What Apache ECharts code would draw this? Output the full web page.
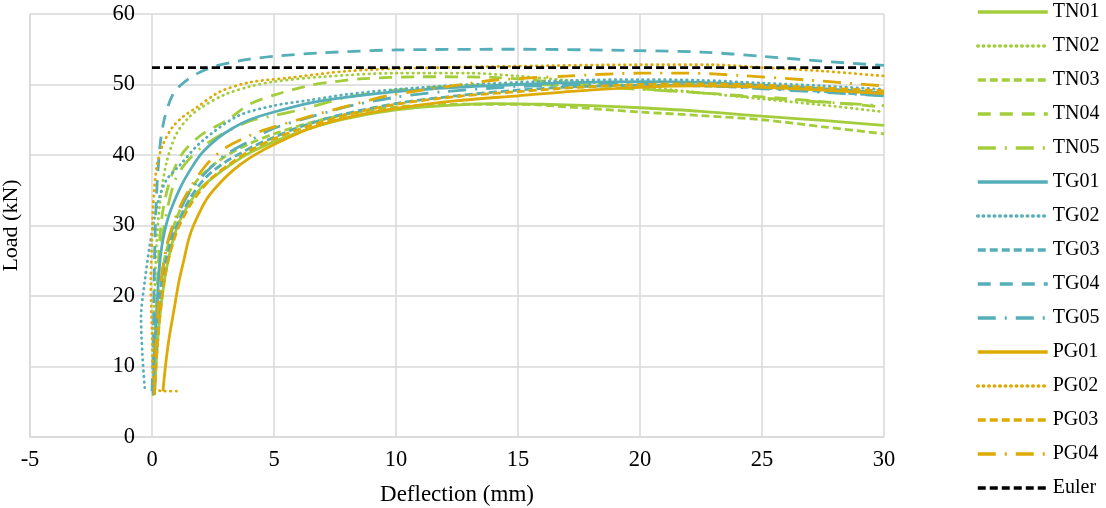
<!DOCTYPE html>
<html>
<head>
<meta charset="utf-8">
<script src="https://cdn.jsdelivr.net/npm/echarts@6/dist/echarts.min.js"></script>
<style>
html,body{margin:0;padding:0;background:#fff;}
#chart{width:1106px;height:508px;}
</style>
</head>
<body>
<div id="chart"></div>
<script>
// ---- data (deflection mm, load kN) ----
const xTicks = [-5, 0, 5, 10, 15, 20, 25, 30];
const yTicks = [0, 10, 20, 30, 40, 50, 60];
const seriesNames = ['TN01','TN02','TN03','TN04','TN05','TG01','TG02','TG03','TG04','TG05','PG01','PG02','PG03','PG04','Euler'];

const TN01 = [[0.1,6],[0.2,12],[0.35,18],[0.6,24],[1,29.5],[1.5,33],[2,35.3],[2.5,36.8],[3.3,38.8],[4,40.3],[5,41.9],[6.5,43.8],[8,45.2],[10,46.4],[12,47],[14,47.3],[16,47.2],[18,47],[20,46.7],[22.5,46.2],[25,45.5],[27.5,44.9],[30,44.2]];
const TN02 = [[0.05,6],[0.05,12],[0.1,20],[0.2,28],[0.35,34],[0.6,39],[1,43],[1.5,45.3],[2,46.7],[3,48.6],[4,49.7],[5,50.4],[7,51.1],[10,51.6],[13,51.6],[15,51.2],[17,50.6],[20,49.7],[22,49],[24,48.3],[26,47.6],[28,46.9],[30,46.1]];
const TN03 = [[0.1,6],[0.15,12],[0.3,19],[0.5,25],[0.9,30],[1.4,34],[2,37],[3,39.8],[4,41.6],[5,43],[6.5,44.6],[8,45.8],[10,46.8],[12.5,47.2],[15,47.2],[17.5,46.7],[20,46.1],[22.5,45.6],[25,45],[27.5,44],[30,43]];
const TN04 = [[0.1,6],[0.15,15],[0.25,24],[0.4,31],[0.7,36],[1.2,40],[2,42.8],[3.1,45],[4,47.2],[5,48.5],[6.5,49.9],[7.5,50.4],[8.5,50.8],[11,51.1],[14,51],[17,50.2],[20,49.4],[23,48.7],[26,48],[28,47.4],[30,46.8]];
const TN05 = [[0.1,6],[0.15,14],[0.3,24],[0.5,30],[0.9,36],[1.3,38.5],[2,41],[2.9,43],[4,44.8],[5,45.6],[6.3,46.6],[8,48.2],[10,49.2],[12.5,49.8],[15,50],[17.5,49.8],[20,49.3],[22.5,48.8],[25,48.1],[27.5,47.5],[30,47]];
const TG01 = [[0.05,6],[0.1,12],[0.2,18],[0.3,24],[0.45,28],[0.7,31.5],[1.15,35.3],[1.5,37.5],[2,40.1],[2.7,42.4],[3.3,43.8],[4,45],[5,46.1],[6.5,47.4],[8,48.2],[10,49],[12.5,49.6],[15,50],[17.5,50.3],[20,50.4],[22.5,50.3],[25,49.9],[27.5,49.4],[30,48.8]];
const TG02 = [[-0.3,7],[-0.4,12],[-0.45,17],[-0.3,22],[-0.1,27],[0.1,31],[0.3,34],[0.6,36.5],[1.15,38.6],[2,41.8],[3.5,45.5],[5,47],[6.5,47.8],[8,48.6],[10,49.3],[12.5,49.9],[15,50.3],[17.5,50.6],[20,50.7],[22.5,50.6],[25,50.2],[27.5,49.8],[30,49.3]];
const TG03 = [[0.05,6],[0.15,12],[0.3,19],[0.5,24],[0.9,29],[1.5,33.5],[2.2,36.8],[3,39],[3.5,40],[4.2,41.3],[5,42.5],[6,43.9],[7.5,45.5],[10,47.3],[12.5,48.4],[15,49.2],[17.5,49.7],[20,49.9],[22.5,49.8],[25,49.5],[27.5,49],[30,48.4]];
const TG04 = [[0,6.5],[0.05,12],[0.08,20],[0.12,28],[0.18,34],[0.25,38],[0.35,42],[0.5,45],[0.75,47.8],[1,49.3],[1.5,50.8],[2,51.8],[2.5,52.5],[3.2,53.1],[4,53.6],[5,54],[7,54.5],[10,54.9],[15,55],[20,54.8],[22.5,54.6],[25,54],[27.5,53.3],[30,52.7]];
const TG05 = [[0.1,6],[0.2,14],[0.35,21],[0.6,27],[1,31],[1.5,34.5],[2.2,37.5],[3,40],[4,42],[5,43.8],[6.3,45.2],[7.3,46.2],[8.3,47.1],[10,48.2],[12,49],[15,49.7],[17.5,50],[20,50.1],[22.5,49.9],[25,49.4],[27.5,48.9],[30,48.4]];
const PG01 = [[0.45,6.5],[0.55,10],[0.7,14],[0.9,18],[1.1,22],[1.3,25],[1.5,28],[1.7,30],[2.25,33.8],[3,36.8],[3.6,38.6],[4.3,40.2],[5,41.5],[6.5,43.8],[8,45.3],[10,46.6],[12.5,47.7],[15,48.4],[17.5,49.1],[20,49.6],[22.5,49.8],[25,49.6],[27.5,49.2],[30,48.7]];
const PG02 = [[1,6.5],[0.5,6.5],[0.1,7],[0,15],[-0.05,22],[0,28],[0.05,33],[0.2,38.5],[0.45,41.5],[0.85,44],[1.3,45.5],[1.85,46.8],[2.8,49],[4,50.3],[5.5,50.9],[8,51.9],[10.5,52.3],[15,52.6],[20,52.8],[23,52.8],[25,52.4],[27.5,51.9],[30,51.2]];
const PG03 = [[0.1,6],[0.2,12],[0.35,18],[0.6,24],[1,29],[1.5,32.5],[2,35],[2.5,36.9],[3.3,39],[4,40.6],[5,42.3],[6.5,44.2],[8,45.7],[10,47.2],[12.5,48.3],[15,49],[17.5,49.6],[20,50],[22.5,50.1],[25,49.9],[27.5,49.5],[30,49.1]];
const PG04 = [[0.1,6],[0.15,12],[0.3,20],[0.6,27],[1,31.5],[1.5,35],[2.2,38.5],[3,41],[4.4,43.3],[6,45],[7,46],[8.3,47.2],[9.8,48.5],[12.5,49.9],[14,50.6],[17,51.2],[20,51.6],[22,51.6],[24,51.3],[27,50.6],[28.5,50.2],[30,49.8]];
const EULER = [[0,52.4],[30,52.4]];

// ---- styles ----
const GREEN = '#A3CD3B', TEAL = '#55AEB8', GOLD = '#DEAA05', BLACK = '#000000';
const DOT = [0.5, 5], DASH = [8, 4], LONG = [13, 9], LDD = [18, 9, 2, 9];
const defs = [
  ['TN01', TN01, GREEN, 'solid', 'butt'],
  ['TN02', TN02, GREEN, DOT, 'round'],
  ['TN03', TN03, GREEN, DASH, 'butt'],
  ['TN04', TN04, GREEN, LONG, 'butt'],
  ['TN05', TN05, GREEN, LDD, 'butt'],
  ['TG01', TG01, TEAL, 'solid', 'butt'],
  ['TG02', TG02, TEAL, DOT, 'round'],
  ['TG03', TG03, TEAL, DASH, 'butt'],
  ['TG04', TG04, TEAL, LONG, 'butt'],
  ['TG05', TG05, TEAL, LDD, 'butt'],
  ['PG01', PG01, GOLD, 'solid', 'butt'],
  ['PG02', PG02, GOLD, DOT, 'round'],
  ['PG03', PG03, GOLD, DASH, 'butt'],
  ['PG04', PG04, GOLD, LDD, 'butt'],
  ['Euler', EULER, BLACK, [8, 4], 'butt']
];

const FONT = 'Liberation Serif, Times New Roman, serif';

const series = defs.map(d => ({
  name: d[0],
  type: 'line',
  data: d[1],
  showSymbol: false,
  symbol: 'none',
  smooth: 0.3,
  color: d[2],
  lineStyle: { color: d[2], width: 2.8, type: d[3], cap: d[4] },
  emphasis: { disabled: true },
  animation: false
}));

const chart = echarts.init(document.getElementById('chart'), null, { renderer: 'canvas' });
chart.setOption({
  animation: false,
  backgroundColor: '#ffffff',
  grid: { left: 30, right: 222, top: 14, bottom: 71, containLabel: false, outerBoundsMode: 'none' },
  xAxis: {
    type: 'value',
    min: xTicks[0], max: xTicks[xTicks.length - 1], interval: 5,
    name: 'Deflection (mm)', nameLocation: 'middle', nameGap: 46,
    nameTextStyle: { fontFamily: FONT, fontSize: 23, color: '#000' },
    axisLine: { show: true, onZero: false, lineStyle: { color: '#d9d9d9', width: 1.5 } },
    axisTick: { show: false },
    axisLabel: { fontFamily: FONT, fontSize: 22.5, color: '#000', margin: 12 },
    splitLine: { show: true, lineStyle: { color: '#d9d9d9', width: 1.5 } }
  },
  yAxis: {
    type: 'value',
    min: yTicks[0], max: yTicks[yTicks.length - 1], interval: 10,
    name: 'Load (kN)', nameLocation: 'middle', nameGap: 8, nameRotate: 90,
    nameTextStyle: { fontFamily: FONT, fontSize: 22, color: '#000' },
    axisLine: { show: true, onZero: false, lineStyle: { color: '#d9d9d9', width: 1.5 } },
    axisTick: { show: false },
    axisLabel: { fontFamily: FONT, fontSize: 22.5, color: '#000', margin: -105, align: 'right' },
    splitLine: { show: true, lineStyle: { color: '#d9d9d9', width: 1.5 } }
  },
  legend: {
    data: seriesNames,
    orient: 'vertical',
    left: 976, top: 2,
    padding: 0,
    itemWidth: 70, itemHeight: 14, itemGap: 14,
    textStyle: { fontFamily: FONT, fontSize: 20, color: '#000', lineHeight: 20 },
    lineStyle: { width: 3.5 },
    itemStyle: { opacity: 0, borderWidth: 0 },
    selectedMode: false
  },
  series: series
});
</script>
</body>
</html>
